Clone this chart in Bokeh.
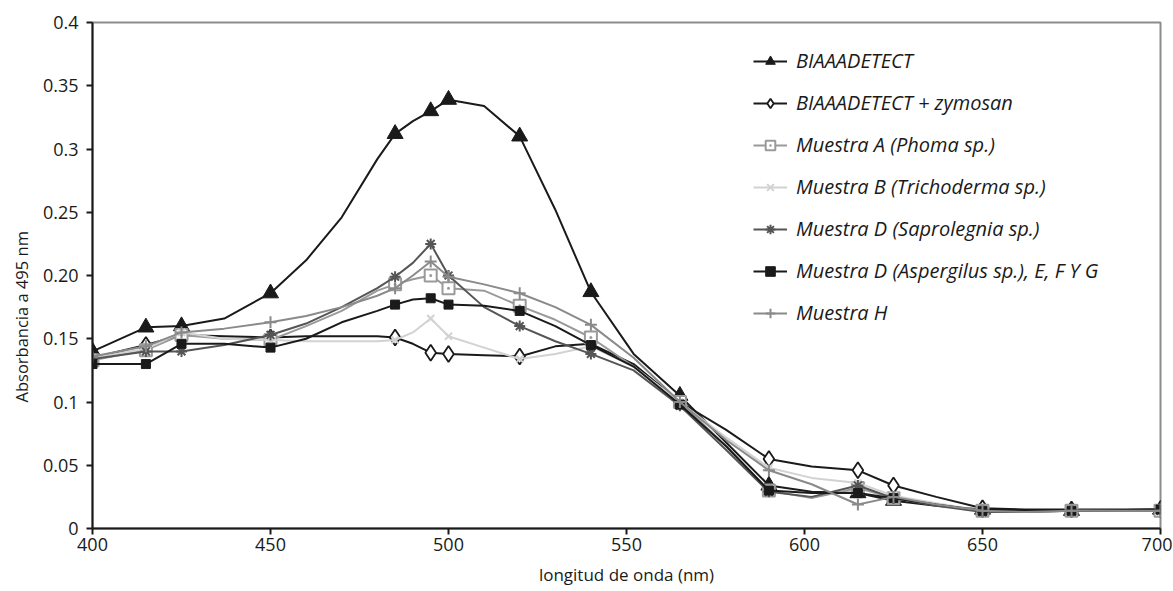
from bokeh.plotting import figure
from bokeh.embed import file_html
from bokeh.resources import INLINE
from bokeh.models import Range1d, FixedTicker, Legend, LegendItem, Title

# wavelength grid (nm) of the line data
wl = [400, 415, 425, 437, 450, 460, 470, 480, 485, 490, 495, 500, 510, 520, 530, 540,
      552, 565, 578, 590, 602, 615, 625, 637, 650, 662, 675, 700]
# wavelengths carrying a marker
marker_wl = [400, 415, 425, 450, 485, 495, 500, 520, 540, 565, 590, 615, 625, 650, 675, 700]

biaaadetect = [0.140, 0.159, 0.160, 0.166, 0.186, 0.212, 0.246, 0.292, 0.312, 0.322, 0.330, 0.339,
               0.334, 0.310, 0.252, 0.187, 0.138, 0.105, 0.068, 0.034, 0.029, 0.028, 0.022, 0.018,
               0.015, 0.014, 0.014, 0.015]
zymosan = [0.135, 0.145, 0.153, 0.152, 0.151, 0.152, 0.152, 0.152, 0.151, 0.146, 0.139, 0.138,
           0.137, 0.136, 0.144, 0.146, 0.130, 0.100, 0.078, 0.055, 0.049, 0.046, 0.034, 0.025,
           0.016, 0.015, 0.015, 0.015]
phoma = [0.133, 0.141, 0.153, 0.150, 0.149, 0.160, 0.172, 0.188, 0.193, 0.197, 0.200, 0.190,
         0.188, 0.176, 0.165, 0.151, 0.128, 0.100, 0.065, 0.030, 0.024, 0.032, 0.024, 0.019,
         0.014, 0.013, 0.014, 0.014]
trichoderma = [0.135, 0.142, 0.155, 0.150, 0.149, 0.148, 0.148, 0.148, 0.149, 0.155, 0.166, 0.152,
               0.143, 0.134, 0.138, 0.144, 0.128, 0.100, 0.072, 0.048, 0.040, 0.036, 0.026, 0.020,
               0.014, 0.013, 0.014, 0.014]
saprolegnia = [0.134, 0.140, 0.140, 0.145, 0.153, 0.162, 0.175, 0.190, 0.199, 0.210, 0.225, 0.200,
               0.175, 0.160, 0.148, 0.138, 0.125, 0.097, 0.062, 0.029, 0.025, 0.034, 0.024, 0.018,
               0.013, 0.013, 0.014, 0.014]
aspergillus = [0.130, 0.130, 0.146, 0.146, 0.143, 0.150, 0.163, 0.172, 0.177, 0.181, 0.182, 0.177,
               0.176, 0.172, 0.160, 0.145, 0.128, 0.098, 0.065, 0.030, 0.028, 0.028, 0.024, 0.019,
               0.014, 0.014, 0.014, 0.015]
muestra_h = [0.136, 0.144, 0.155, 0.158, 0.163, 0.168, 0.175, 0.184, 0.190, 0.200, 0.211, 0.199,
             0.193, 0.186, 0.175, 0.161, 0.135, 0.100, 0.070, 0.046, 0.035, 0.019, 0.025, 0.019,
             0.014, 0.013, 0.014, 0.014]

labels = ["BIAAADETECT", "BIAAADETECT + zymosan", "Muestra A (Phoma sp.)",
          "Muestra B (Trichoderma sp.)", "Muestra D (Saprolegnia sp.)",
          "Muestra D (Aspergilus sp.), E, F Y G", "Muestra H"]

x_ticks = [400, 450, 500, 550, 600, 650, 700]
y_ticks = [0, 0.05, 0.1, 0.15, 0.2, 0.25, 0.3, 0.35, 0.4]
y_tick_labels = ["0", "0.05", "0.1", "0.15", "0.20", "0.25", "0.3", "0.35", "0.4"]
x_title = "longitud de onda (nm)"
y_title = "Absorbancia a 495 nm"

series = [biaaadetect, zymosan, phoma, trichoderma, saprolegnia, aspergillus, muestra_h]
styles = [
    dict(color="#1a1a1a", marker="triangle", size=16, fill="#1a1a1a", mlw=1),
    dict(color="#1a1a1a", marker="diamond", size=16, fill="white", mlw=1.8),
    dict(color="#9a9a9a", marker="square_dot", size=12, fill="white", mlw=2),
    dict(color="#d2d2d2", marker="x", size=10, fill="#d2d2d2", mlw=2),
    dict(color="#555555", marker="asterisk", size=11, fill="#555555", mlw=2),
    dict(color="#1a1a1a", marker="square", size=9, fill="#1a1a1a", mlw=1),
    dict(color="#8a8a8a", marker="cross", size=12, fill="#8a8a8a", mlw=2),
]

FONT = "Open Sans"

p = figure(width=1172, height=590, output_backend="svg", toolbar_location=None,
           x_range=Range1d(400, 700), y_range=Range1d(0, 0.4),
           min_border_left=90, min_border_top=22, min_border_right=12, min_border_bottom=62)
p.grid.visible = False
p.outline_line_color = "#8c8c8c"
p.outline_line_width = 2
p.background_fill_color = "white"

for ax in (p.xaxis[0], p.yaxis[0]):
    ax.axis_line_color = "#1a1a1a"
    ax.axis_line_width = 2
    ax.major_tick_line_color = "#1a1a1a"
    ax.major_tick_line_width = 2
    ax.major_tick_out = 6
    ax.major_tick_in = 0
    ax.minor_tick_line_color = None
    ax.major_label_text_font = FONT
    ax.major_label_text_font_size = "18px"
    ax.major_label_text_color = "#1a1a1a"
    ax.axis_label_text_font = FONT
    ax.axis_label_text_font_style = "normal"
    ax.axis_label_text_color = "#1a1a1a"

p.xaxis.axis_label_text_font_size = "17px"
p.xaxis.ticker = FixedTicker(ticks=x_ticks)
p.yaxis.ticker = FixedTicker(ticks=y_ticks)
p.yaxis.major_label_overrides = {t: l for t, l in zip(y_ticks, y_tick_labels)}
p.xaxis.axis_label = x_title
p.xaxis.major_label_standoff = 3
p.yaxis.major_label_standoff = 8
p.xaxis.axis_label_standoff = 9

# y-axis title sits below the frame's centre in the reference
p.add_layout(Title(text=y_title, align="left", offset=126, standoff=14,
                   text_font=FONT, text_font_size="16.5px", text_font_style="normal",
                   text_color="#1a1a1a"), "left")

items = []
for vals, st, lab in zip(series, styles, labels):
    mx = [w for w in wl if w in marker_wl]
    my = [v for w, v in zip(wl, vals) if w in marker_wl]
    r1 = p.line(wl, vals, line_color=st["color"], line_width=2)
    r2 = p.scatter(mx, my, marker=st["marker"], size=st["size"], line_color=st["color"],
                   fill_color=st["fill"], line_width=st["mlw"])
    items.append(LegendItem(label=lab, renderers=[r1, r2]))

legend = Legend(items=items, location=(661, 202), padding=0, margin=0,
                border_line_color=None, background_fill_alpha=0,
                label_text_font=FONT, label_text_font_style="italic",
                label_text_font_size="20px", label_text_color="#1a1a1a",
                glyph_width=34, glyph_height=24, label_height=24,
                label_standoff=9, spacing=15)
p.add_layout(legend, "center")

open("out.html", "w").write(file_html(p, INLINE))
